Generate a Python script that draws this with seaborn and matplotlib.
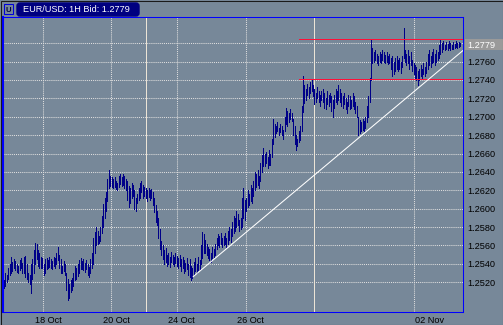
import numpy as np
import pandas as pd
import matplotlib
matplotlib.use('Agg')
import matplotlib.pyplot as plt
from matplotlib.patches import Rectangle, FancyBboxPatch
from matplotlib.transforms import IdentityTransform, blended_transform_factory
import seaborn as sns

# ---- data: hourly EUR/USD bars (high / low) ----
highs = [
    1.2522,1.2530,1.2528,1.2536,1.2540,1.2547,1.2542,1.2545,1.2543,1.2540,
    1.2538,1.2544,1.2546,1.2541,1.2548,1.2549,1.2540,1.2530,1.2528,1.2540,
    1.2545,1.2555,1.2563,1.2562,1.2555,1.2552,1.2548,1.2546,1.2540,1.2545,
    1.2546,1.2544,1.2548,1.2545,1.2543,1.2547,1.2546,1.2552,1.2558,1.2550,
    1.2545,1.2538,1.2543,1.2540,1.2530,1.2524,1.2518,1.2522,1.2525,1.2530,
    1.2538,1.2536,1.2540,1.2544,1.2546,1.2543,1.2545,1.2541,1.2544,1.2540,
    1.2537,1.2545,1.2552,1.2568,1.2575,1.2580,1.2576,1.2570,1.2580,1.2592,
    1.2605,1.2612,1.2618,1.2632,1.2642,1.2636,1.2634,1.2632,1.2635,1.2630,
    1.2628,1.2636,1.2638,1.2634,1.2638,1.2636,1.2632,1.2630,1.2625,1.2622,
    1.2628,1.2626,1.2620,1.2612,1.2616,1.2622,1.2628,1.2630,1.2626,1.2624,
    1.2622,1.2620,1.2623,1.2620,1.2621,1.2618,1.2612,1.2604,1.2598,1.2590,
    1.2578,1.2565,1.2560,1.2555,1.2557,1.2550,1.2552,1.2548,1.2553,1.2550,
    1.2548,1.2552,1.2549,1.2546,1.2550,1.2545,1.2548,1.2544,1.2541,1.2546,
    1.2540,1.2545,1.2538,1.2535,1.2542,1.2546,1.2540,1.2548,1.2544,1.2560,
    1.2575,1.2572,1.2566,1.2562,1.2558,1.2556,1.2552,1.2558,1.2556,1.2562,
    1.2568,1.2572,1.2570,1.2574,1.2568,1.2570,1.2574,1.2568,1.2576,1.2580,
    1.2578,1.2586,1.2592,1.2590,1.2598,1.2594,1.2588,1.2590,1.2612,1.2622,
    1.2610,1.2612,1.2620,1.2616,1.2626,1.2622,1.2630,1.2640,1.2638,1.2642,
    1.2636,1.2650,1.2658,1.2666,1.2660,1.2662,1.2656,1.2664,1.2660,1.2676,
    1.2698,1.2692,1.2690,1.2694,1.2688,1.2692,1.2690,1.2686,1.2700,1.2710,
    1.2706,1.2704,1.2708,1.2704,1.2698,1.2690,1.2680,1.2676,1.2684,1.2690,
    1.2712,1.2744,1.2735,1.2730,1.2736,1.2732,1.2738,1.2740,1.2734,1.2730,
    1.2726,1.2732,1.2728,1.2724,1.2728,1.2730,1.2726,1.2720,1.2728,1.2724,
    1.2726,1.2722,1.2718,1.2724,1.2730,1.2728,1.2734,1.2730,1.2726,1.2722,
    1.2726,1.2720,1.2716,1.2724,1.2722,1.2718,1.2726,1.2722,1.2716,1.2712,
    1.2700,1.2696,1.2694,1.2698,1.2695,1.2700,1.2712,1.2722,1.2742,1.2785,
    1.2775,1.2770,1.2772,1.2768,1.2766,1.2770,1.2768,1.2772,1.2770,1.2767,
    1.2770,1.2766,1.2768,1.2764,1.2766,1.2760,1.2764,1.2766,1.2762,1.2764,
    1.2760,1.2766,1.2796,1.2772,1.2768,1.2772,1.2766,1.2770,1.2762,1.2758,
    1.2756,1.2754,1.2750,1.2752,1.2756,1.2752,1.2758,1.2754,1.2760,1.2768,
    1.2772,1.2766,1.2770,1.2774,1.2768,1.2772,1.2770,1.2778,1.2783,1.2780,
    1.2782,1.2778,1.2781,1.2779,1.2782,1.2780,1.2778,1.2781,1.2779,1.2782,
    1.2780,1.2781,1.2780,
]
lows = [
    1.2514,1.2516,1.2520,1.2524,1.2528,1.2530,1.2532,1.2535,1.2533,1.2531,
    1.2530,1.2533,1.2536,1.2530,1.2530,1.2526,1.2524,1.2520,1.2518,1.2508,
    1.2524,1.2530,1.2540,1.2545,1.2538,1.2536,1.2535,1.2535,1.2528,1.2530,
    1.2534,1.2536,1.2537,1.2535,1.2534,1.2538,1.2536,1.2540,1.2544,1.2536,
    1.2530,1.2530,1.2532,1.2528,1.2512,1.2501,1.2503,1.2509,1.2512,1.2516,
    1.2522,1.2524,1.2527,1.2530,1.2534,1.2534,1.2533,1.2531,1.2534,1.2528,
    1.2526,1.2530,1.2536,1.2540,1.2552,1.2560,1.2562,1.2563,1.2565,1.2574,
    1.2580,1.2590,1.2598,1.2608,1.2622,1.2625,1.2624,1.2622,1.2624,1.2621,
    1.2620,1.2624,1.2627,1.2625,1.2626,1.2622,1.2620,1.2610,1.2602,1.2606,
    1.2612,1.2614,1.2600,1.2598,1.2606,1.2610,1.2612,1.2618,1.2612,1.2614,
    1.2612,1.2608,1.2613,1.2610,1.2612,1.2604,1.2596,1.2586,1.2582,1.2568,
    1.2556,1.2550,1.2545,1.2540,1.2542,1.2538,1.2540,1.2537,1.2542,1.2540,
    1.2538,1.2541,1.2538,1.2536,1.2538,1.2532,1.2535,1.2530,1.2532,1.2534,
    1.2528,1.2526,1.2523,1.2525,1.2528,1.2532,1.2530,1.2533,1.2534,1.2540,
    1.2546,1.2552,1.2552,1.2550,1.2546,1.2544,1.2542,1.2546,1.2548,1.2550,
    1.2556,1.2560,1.2558,1.2562,1.2558,1.2560,1.2562,1.2558,1.2562,1.2566,
    1.2564,1.2570,1.2574,1.2576,1.2580,1.2582,1.2576,1.2578,1.2580,1.2590,
    1.2588,1.2598,1.2602,1.2604,1.2608,1.2606,1.2614,1.2620,1.2624,1.2626,
    1.2622,1.2630,1.2640,1.2646,1.2646,1.2650,1.2644,1.2648,1.2648,1.2656,
    1.2670,1.2678,1.2682,1.2684,1.2680,1.2683,1.2680,1.2676,1.2684,1.2692,
    1.2690,1.2694,1.2698,1.2695,1.2680,1.2670,1.2664,1.2668,1.2672,1.2675,
    1.2684,1.2705,1.2715,1.2718,1.2724,1.2720,1.2726,1.2728,1.2722,1.2714,
    1.2716,1.2720,1.2716,1.2712,1.2718,1.2716,1.2710,1.2708,1.2714,1.2712,
    1.2716,1.2706,1.2700,1.2710,1.2716,1.2714,1.2718,1.2716,1.2712,1.2710,
    1.2714,1.2708,1.2704,1.2712,1.2708,1.2710,1.2712,1.2708,1.2704,1.2700,
    1.2680,1.2682,1.2684,1.2686,1.2685,1.2688,1.2694,1.2700,1.2716,1.2740,
    1.2758,1.2760,1.2762,1.2758,1.2756,1.2760,1.2758,1.2762,1.2760,1.2758,
    1.2760,1.2757,1.2758,1.2752,1.2744,1.2746,1.2750,1.2752,1.2750,1.2752,
    1.2748,1.2754,1.2764,1.2760,1.2756,1.2758,1.2752,1.2756,1.2750,1.2746,
    1.2742,1.2740,1.2734,1.2740,1.2744,1.2742,1.2746,1.2744,1.2748,1.2752,
    1.2756,1.2754,1.2758,1.2760,1.2756,1.2760,1.2762,1.2764,1.2768,1.2770,
    1.2774,1.2772,1.2774,1.2773,1.2775,1.2773,1.2774,1.2774,1.2775,1.2776,
    1.2775,1.2776,1.2777,
]
assert len(highs) == len(lows)

price_ticks = [1.2520, 1.2540, 1.2560, 1.2580, 1.2600, 1.2620, 1.2640,
               1.2660, 1.2680, 1.2700, 1.2720, 1.2740, 1.2760, 1.2780]
date_labels = ['18 Oct', '20 Oct', '24 Oct', '26 Oct', '02 Nov']
date_grid_pos = [27.3, 75.5, 121.9, 170.6, 289.6]      # bar index of day gridlines
date_label_pos = [21.9, 69.7, 115.7, 164.4, 290.0]     # bar index where label starts
week_sep_pos = [100.0, 219.0]
last_price = 1.2779
level_lines = [1.2785, 1.2741]
level_start = 208.2
trend_x = [133.4, 323.9]
trend_y = [1.2526, 1.2772]
title_text = 'EUR/USD: 1H Bid: 1.2779'

# ---- build long tables for seaborn ----
n = len(highs)
df = pd.DataFrame({
    'bar': np.repeat(np.arange(n), 2),
    'price': np.column_stack([lows, highs]).ravel(),
})
trend_df = pd.DataFrame({'x': trend_x, 'y': trend_y})
level_df = pd.DataFrame({
    'lvl': np.repeat(np.arange(len(level_lines)), 2),
    'x': [level_start, trend_x[1]] * len(level_lines),
    'y': np.repeat(level_lines, 2),
})

BG = '#778899'
sns.set_style('dark', {'axes.facecolor': BG, 'figure.facecolor': BG})
plt.rcParams['font.family'] = ['Liberation Sans', 'DejaVu Sans']
FS = 6.6
THIN = 0.55

fig = plt.figure(figsize=(5.03, 3.25), dpi=100)
fig.patch.set_facecolor(BG)
ax = fig.add_axes([3/503, 13/325, 460/503, 295/325])
ax.set_facecolor(BG)

# bars
sns.lineplot(data=df, x='bar', y='price', units='bar', estimator=None,
             color='#000088', linewidth=THIN, ax=ax, sort=False, legend=False,
             antialiased=False, solid_capstyle='butt', zorder=3)

# week separators
for wx in week_sep_pos:
    ax.axvline(wx, color='#ece4d6', linewidth=THIN, zorder=2, antialiased=False)

# level lines (red)
sns.lineplot(data=level_df, x='x', y='y', units='lvl', estimator=None,
             color='#ff1038', linewidth=THIN, ax=ax, sort=False, legend=False,
             antialiased=False, zorder=4)

# trendline
sns.lineplot(data=trend_df, x='x', y='y', color='white', linewidth=0.75,
             ax=ax, zorder=5, legend=False)

ax.set_xlim(-0.7, 323.9)
ax.set_ylim(1.24877, 1.28084)
ax.set_xlabel('')
ax.set_ylabel('')

ax.set_xticks(date_grid_pos)
ax.set_xticklabels([])
ax.set_yticks(price_ticks)
ax.set_yticklabels([f'{v:.4f}' for v in price_ticks[:-1]] + [''])
ax.yaxis.tick_right()
ax.tick_params(axis='both', length=0, labelsize=FS, colors='black', pad=2.9)
ax.grid(True, color='#dedede', linestyle=(0, (1, 1)), linewidth=0.75)
ax.set_axisbelow(True)

for s in ax.spines.values():
    s.set_visible(True)
    s.set_color('#0000ff')
    s.set_linewidth(0.75)
ax.spines['left'].set_linewidth(1.5)

# date labels
tr = blended_transform_factory(ax.transData, ax.transAxes)
for lab, lx in zip(date_labels, date_label_pos):
    ax.text(lx, -0.0363, lab, transform=tr, ha='left', va='baseline',
            fontsize=FS, color='black')

# last price box (drawn behind the label text)
box = Rectangle((465, 325-49.5), 38, 11, transform=IdentityTransform(),
                facecolor='#9a9a9a', edgecolor='none', zorder=0)
fig.add_artist(box)
fig.text(467/503, 1-47.8/325, f'{last_price:.4f}', ha='left', va='baseline',
         fontsize=FS, color='white', zorder=5)

# title badge
fig.add_artist(FancyBboxPatch((17, 325-16), 122, 13,
                              boxstyle='round,pad=0,rounding_size=3',
                              transform=IdentityTransform(),
                              facecolor='#000080', edgecolor='#000080', zorder=1))
fig.text(22.7/503, 1-11.7/325, title_text, color='white', fontsize=FS,
         ha='left', va='baseline', zorder=5)

# small icon
fig.add_artist(Rectangle((4, 325-14), 9, 10, transform=IdentityTransform(),
                         facecolor='none', edgecolor='#0000dd', linewidth=0.75))
fig.text(5.5/503, 1-12.5/325, 'U', color='#000040', fontsize=5.5,
         ha='left', va='baseline', fontweight='bold')

# outer frame
fig.add_artist(Rectangle((0.5, 0.5), 502, 324, transform=IdentityTransform(),
                         facecolor='none', edgecolor='#1a1a1a', linewidth=0.75))

fig.savefig('out.png', dpi=100, facecolor=BG)
